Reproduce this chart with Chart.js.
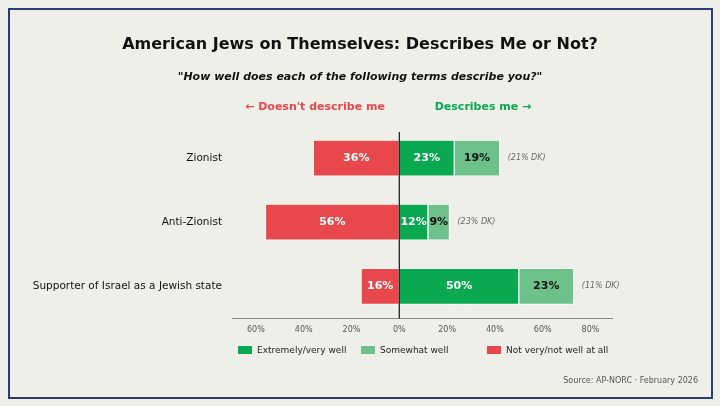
<!DOCTYPE html>
<html><head><meta charset="utf-8">
<script src="https://cdn.jsdelivr.net/npm/chart.js@4"></script>
<style>
html,body{margin:0;padding:0;background:#efefe9;}
#wrap{position:relative;width:720px;height:406px;}
#frame{position:absolute;left:8px;top:8px;width:701px;height:387px;border:2px solid #2b3a78;pointer-events:none;}
</style></head>
<body><div id="wrap"><canvas id="c" width="720" height="406"></canvas><div id="frame"></div></div>
<script>
const categories = ["Zionist", "Anti-Zionist", "Supporter of Israel as a Jewish state"];
const notWell = [36, 56, 16];
const extremely = [23, 12, 50];
const somewhat = [19, 9, 23];
const dontKnow = [21, 23, 11];
const xTicks = [-60, -40, -20, 0, 20, 40, 60, 80];

const RED = "#e8474c", GREEN = "#0aa84f", LIGHT = "#6cc28a";
const FONT = "'DejaVu Sans', sans-serif";

const textPlugin = {
    id: "texts",
    afterDraw(chart) {
        const ctx = chart.ctx, a = chart.chartArea, x = chart.scales.x, y = chart.scales.y;
        ctx.save();
        ctx.textAlign = "center"; ctx.textBaseline = "middle";
        ctx.fillStyle = "#111";
        ctx.font = "bold 16px " + FONT;
        ctx.fillText("American Jews on Themselves: Describes Me or Not?", 360, 45);
        ctx.font = "italic bold 11px " + FONT;
        ctx.fillText("\"How well does each of the following terms describe you?\"", 360, 77);
        ctx.font = "bold 11px " + FONT;
        ctx.fillStyle = RED; ctx.fillText("\u2190 Doesn't describe me", 315, 107);
        ctx.fillStyle = GREEN; ctx.fillText("Describes me \u2192", 483, 107);
        // zero line
        ctx.strokeStyle = "#111"; ctx.lineWidth = 1.2;
        ctx.beginPath(); ctx.moveTo(x.getPixelForValue(0), 132); ctx.lineTo(x.getPixelForValue(0), a.bottom); ctx.stroke();
        // bar labels
        ctx.font = "bold 11px " + FONT;
        categories.forEach((c, i) => {
            const py = y.getPixelForValue(i);
            const put = (v, from, to, col) => { ctx.fillStyle = col; ctx.fillText(v + "%", (x.getPixelForValue(from) + x.getPixelForValue(to)) / 2, py); };
            put(notWell[i], -notWell[i], 0, "#fff");
            put(extremely[i], 0, extremely[i], "#fff");
            put(somewhat[i], extremely[i], extremely[i] + somewhat[i], "#111");
            ctx.font = "italic 8px " + FONT; ctx.fillStyle = "#666"; ctx.textAlign = "left";
            ctx.fillText("(" + dontKnow[i] + "% DK)", x.getPixelForValue(extremely[i] + somewhat[i]) + 8, py);
            ctx.font = "bold 11px " + FONT; ctx.textAlign = "center";
        });
        // legend
        ctx.font = "9px " + FONT; ctx.textAlign = "left";
        [[GREEN, "Extremely/very well", 238], [LIGHT, "Somewhat well", 361], [RED, "Not very/not well at all", 487]].forEach(l => {
            ctx.fillStyle = l[0]; ctx.fillRect(l[2], 346, 14, 8);
            ctx.fillStyle = "#222"; ctx.fillText(l[1], l[2] + 19, 351);
        });
        ctx.textAlign = "right"; ctx.font = "8px " + FONT; ctx.fillStyle = "#555";
        ctx.fillText("Source: AP-NORC \u00b7 February 2026", 698, 381);
        ctx.restore();
    }
};

new Chart(document.getElementById("c").getContext("2d"), {
    type: "bar",
    data: {
        labels: categories,
        datasets: [
            { label: "Extremely/very well", data: extremely, backgroundColor: GREEN },
            { label: "Somewhat well", data: somewhat, backgroundColor: LIGHT },
            { label: "Not very/not well at all", data: notWell.map(v => -v), backgroundColor: RED }
        ].map(d => Object.assign(d, { borderColor: "#ffffff", borderWidth: 1, borderSkipped: false, barThickness: 36 }))
    },
    options: {
        indexAxis: "y",
        responsive: false,
        animation: false,
        layout: { padding: { left: 20, right: 108, top: 126, bottom: 68 } },
        plugins: { legend: { display: false }, tooltip: { enabled: false } },
        scales: {
            x: {
                stacked: true, min: -70, max: 89,
                afterBuildTicks: s => { s.ticks = xTicks.map(v => ({ value: v })); },
                ticks: { callback: v => Math.abs(v) + "%", color: "#555", font: { size: 8, family: FONT } },
                grid: { display: false, drawTicks: true, tickLength: 4, color: "#888" },
                border: { display: true, color: "#888" }
            },
            y: {
                stacked: true,
                afterFit: s => { s.width = 212; },
                ticks: { color: "#111", font: { size: 10.5, family: FONT }, padding: 2 },
                grid: { display: false },
                border: { display: false }
            }
        }
    },
    plugins: [textPlugin]
});
</script></body></html>
